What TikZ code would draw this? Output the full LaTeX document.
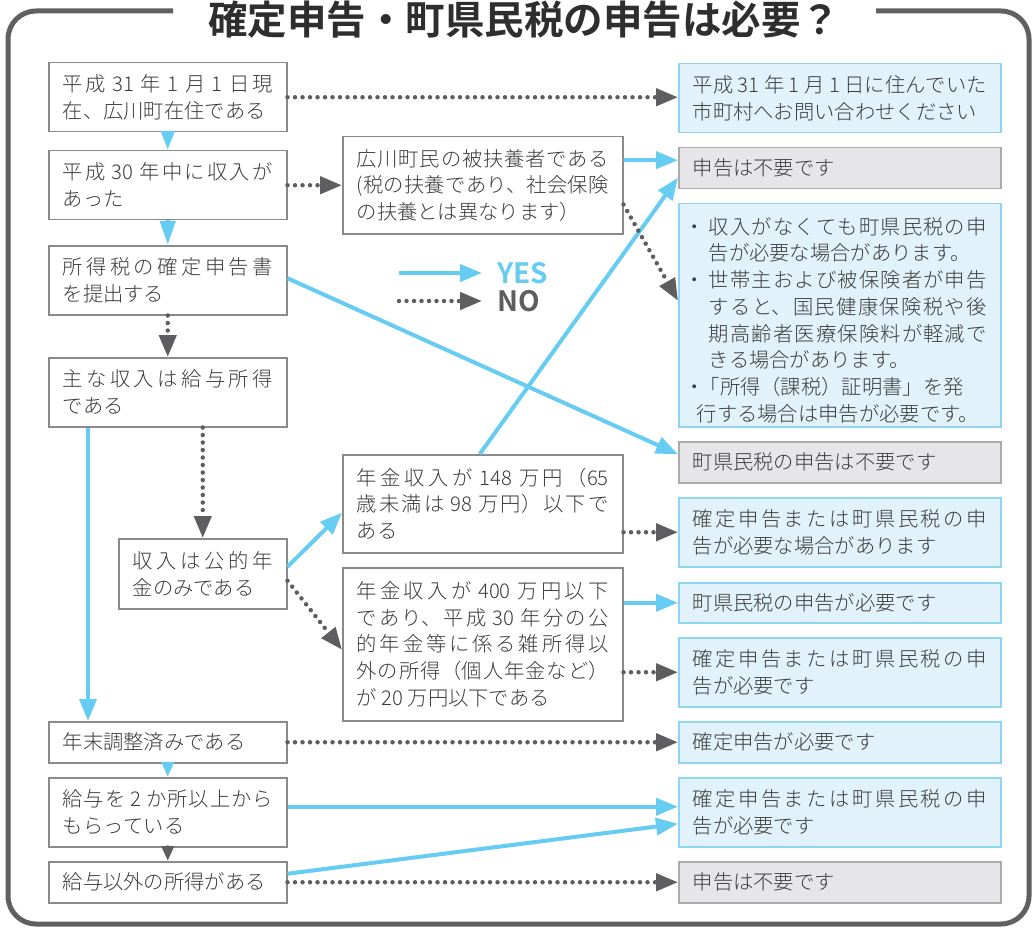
\documentclass[tikz,border=0pt]{standalone}
\usepackage{fontspec}
\usetikzlibrary{arrows.meta}
\newfontfamily\jp{Noto Sans CJK JP Light}[BoldFont={Noto Sans CJK JP Bold}]
\XeTeXlinebreaklocale "ja"
\XeTeXlinebreakskip=0pt plus 3pt minus 0.6pt
\setlength{\parindent}{0pt}
\definecolor{yesblue}{HTML}{66CCF2}
\definecolor{nogray}{HTML}{5E5E60}
\definecolor{bluefill}{HTML}{E1F2FA}
\definecolor{blueline}{HTML}{8DD5F3}
\definecolor{grayfill}{HTML}{E6E6E8}
\definecolor{grayline}{HTML}{ABABAD}
\definecolor{boxline}{HTML}{8A8A8A}
\definecolor{txt}{HTML}{3C3C3C}
\definecolor{framegray}{HTML}{606062}
\newcommand\bul{\par\hangindent=16pt\hangafter=1\makebox[16pt][l]{\hspace{-8pt}・}}

\begin{document}
\begin{tikzpicture}[x=1pt,y=-1pt,
  box/.style={draw=boxline, line width=1.5pt, fill=white, anchor=north west, inner xsep=14pt, inner ysep=0pt,
    align=justify, text=txt, font=\jp\fontsize{20.3}{26.7}\selectfont},
  lbox/.style={box, text width=210pt},
  mbox/.style={box, text width=252pt},
  rbox/.style={box, text width=294pt, draw=blueline, fill=bluefill},
  gbox/.style={rbox, draw=grayline, fill=grayfill},
  yes/.style={draw=yesblue, line width=4pt, -{Triangle[length=22pt,width=17pt]}},
  no/.style={draw=nogray, line width=4.5pt, line cap=round, dash pattern=on 0pt off 7.5pt, -{Triangle[length=22pt,width=17pt]}}]

\useasboundingbox (0,0) rectangle (1033,928);
\clip (0,0) rectangle (1033,928);

\draw [framegray, line width=5pt, rounded corners=28pt] (173,11) -- (8,11) -- (8,924) -- (1029,924) -- (1029,11) -- (876,11);
\node [anchor=north, inner sep=0pt, text=black!82, font=\jp\bfseries\fontsize{39.5}{40}\selectfont] (title) at (524,1) {確定申告・町県民税の申告は必要？};

% left column
\node [lbox, minimum height=69pt] (b1) at (48,62) {平成 31 年 1 月 1 日現\linebreak 在、広川町在住である};
\node [lbox, minimum height=69pt] (b2) at (48,150) {平成 30 年中に収入が\linebreak あった};
\node [lbox, minimum height=69pt] (b3) at (48,245) {所得税の確定申告書\linebreak を提出する};
\node [lbox, minimum height=69pt] (b4) at (48,357) {主な収入は給与所得\linebreak である};
\node [box, text width=140pt, minimum height=70pt] (b5) at (118,538) {収入は公的年\linebreak 金のみである};
\node [lbox, minimum height=41pt] (b6) at (48,721) {年末調整済みである};
\node [lbox, minimum height=69pt] (b7) at (48,777) {給与を 2 か所以上から\linebreak もらっている};
\node [lbox, minimum height=41pt] (b8) at (48,861) {給与以外の所得がある};

% middle column
\node [mbox, minimum height=97pt] (m1) at (342,136) {広川町民の被扶養者である\linebreak (税の扶養であり、社会保険\linebreak の扶養とは異なります）};
\node [mbox, minimum height=98pt] (m2) at (342,454) {年金収入が 148 万円（65\linebreak 歳未満は 98 万円）以下で\linebreak ある};
\node [mbox, minimum height=153pt] (m3) at (342,567) {年金収入が 400 万円以下\linebreak であり、平成 30 年分の公\linebreak 的年金等に係る雑所得以\linebreak 外の所得（個人年金など）\linebreak が 20 万円以下である};

% right column
\node [rbox, minimum height=69pt] (r1) at (678,63) {平成 31 年 1 月 1 日に住んでいた\linebreak 市町村へお問い合わせください};
\node [gbox, minimum height=41pt] (r2) at (678,147) {申告は不要です};
\node [rbox, minimum height=223pt] (r3) at (678,203) {\bul 収入がなくても町県民税の申\linebreak 告が必要な場合があります。\bul 世帯主および被保険者が申告\linebreak すると、国民健康保険税や後\linebreak 期高齢者医療保険料が軽減で\linebreak きる場合があります。\bul\hspace{-9pt}「所得（課税）証明書」を発\newline\hspace*{4pt}行する場合は申告が必要です。};
\node [gbox, minimum height=41pt] (r4) at (678,441) {町県民税の申告は不要です};
\node [rbox, minimum height=69pt] (r5) at (678,497) {確定申告または町県民税の申\linebreak 告が必要な場合があります};
\node [rbox, minimum height=40pt] (r6) at (678,582) {町県民税の申告が必要です};
\node [rbox, minimum height=69pt] (r7) at (678,637) {確定申告または町県民税の申\linebreak 告が必要です};
\node [rbox, minimum height=41pt] (r8) at (678,721) {確定申告が必要です};
\node [rbox, minimum height=69pt] (r9) at (678,777) {確定申告または町県民税の申\linebreak 告が必要です};
\node [gbox, minimum height=41pt] (r10) at (678,861) {申告は不要です};

% legend
\coordinate (yes a) at (399,273);
\coordinate (yes b) at (482,273);
\coordinate (no a) at (399,301);
\coordinate (no b) at (482,301);
\draw [yes] (yes a) -- (yes b);
\draw [no] (no a) -- (no b);
\node [anchor=west, inner sep=0pt, text=yesblue, font=\jp\bfseries\fontsize{28}{28}\selectfont] (yes label) at (497,273) {YES};
\node [anchor=west, inner sep=0pt, text=nogray, font=\jp\bfseries\fontsize{28}{28}\selectfont] (no label) at (497,301) {NO};

% yes
\draw [yes, -{Triangle[length=19pt,width=13pt]}] (b1) -- (b2);
\draw [yes, -{Triangle[length=24pt,width=15pt]}] (b2) -- (b3);
\draw [yes] ([xshift=40pt]b4.south west) -- ([xshift=40pt]b6.north west);
\draw [yes, -{Triangle[length=15pt,width=12pt]}] (b6) -- (b7);
\draw [yes] ([yshift=-24pt]m1.north east) -- ([yshift=8pt]r2.west);
\draw [yes] ([yshift=2pt]b3.east) -- ([yshift=8pt]r4.west);
\draw [yes] ([xshift=-3pt]m2.north) -- ([yshift=-9.5pt]r2.west);
\draw [yes] ([yshift=7pt]b5.east) -- ([yshift=-9pt]m2.west);
\draw [yes] (r6.west -| m3.east) -- (r6.west);
\draw [yes] ([yshift=5.5pt]b7.east) -- ([yshift=5.5pt]r9.west);
\draw [yes] ([yshift=8.5pt]b8.east) -- ([yshift=-11.5pt]r9.west);

% no
\draw [no] (b1.east) -- (b1.east -| r1.west);
\draw [no] (b2.east) -- (b2.east -| m1.west);
\draw [no] (b3) -- (b4);
\draw [no] ([yshift=30pt]m1.south east) -- ([yshift=14.5pt]r3.west);
\draw [no] (b4.south -| b5.north) -- (b5.north);
\draw [no] (r5.west -| m2.east) -- (r5.west);
\draw [no] ([yshift=-7pt]b5.east) -- ([yshift=-5.5pt]m3.west);
\draw [no] (r7.west -| m3.east) -- (r7.west);
\draw [no] (b6.east) -- (r8.west);
\draw [no, -{Triangle[length=15pt,width=12pt]}] (b7) -- (b8);
\draw [no] (b8.east) -- (r10.west);

\end{tikzpicture}
\end{document}
